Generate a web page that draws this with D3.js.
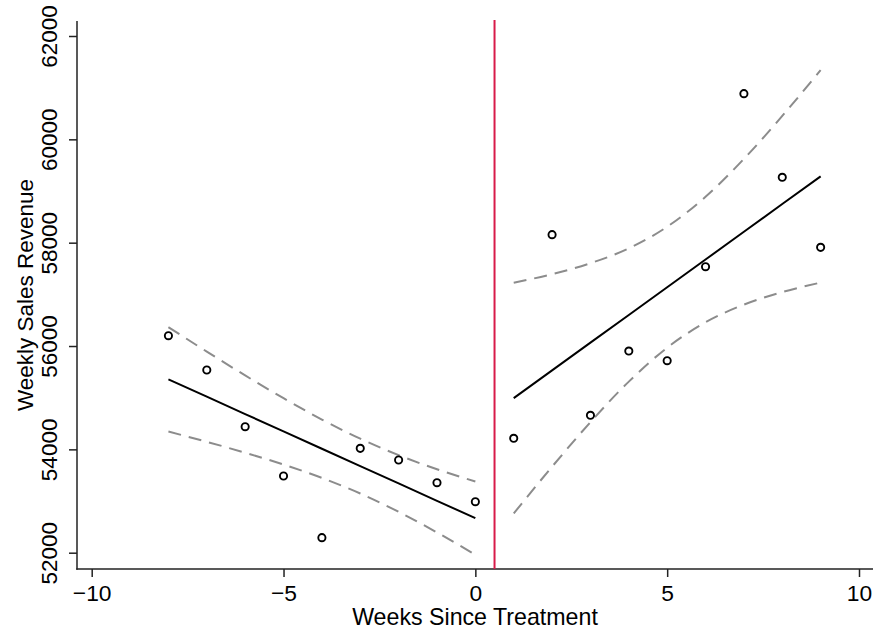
<!DOCTYPE html>
<html>
<head>
<meta charset="utf-8">
<script src="https://cdn.jsdelivr.net/npm/d3@7"></script>
<style>
  html, body { margin: 0; padding: 0; background: #fff; }
  svg { display: block; font-family: "Liberation Sans", Arial, Helvetica, sans-serif; }
</style>
</head>
<body>
<svg id="chart" width="875" height="634"></svg>
<script>
// Weeks relative to treatment, before and after
const weeksPre  = [-8, -7, -6, -5, -4, -3, -2, -1, 0];
const weeksPost = [1, 2, 3, 4, 5, 6, 7, 8, 9];

// Observed weekly sales revenue
const revenuePre  = [56200, 55536, 54439, 53484, 52291, 54020, 53794, 53355, 52987];
const revenuePost = [54214, 58155, 54659, 55903, 55716, 57535, 60884, 59265, 57910];

// Linear fit with confidence band, pre-treatment
const fitPre   = [55355, 55019, 54683, 54348, 54012, 53676, 53340, 53004, 52669];
const upperPre = [56365, 55892, 55431, 54990, 54577, 54207, 53888, 53615, 53378];
const lowerPre = [54345, 54146, 53935, 53707, 53447, 53145, 52792, 52392, 51960];

// Linear fit with confidence band, post-treatment
const fitPost   = [54992, 55528, 56065, 56601, 57138, 57674, 58211, 58748, 59284];
const upperPost = [57224, 57391, 57603, 57891, 58308, 58889, 59621, 60453, 61340];
const lowerPost = [52760, 53665, 54527, 55311, 55968, 56459, 56801, 57043, 57228];

const treatmentWeek = 0.5;
const xTicks = [-10, -5, 0, 5, 10];
const yTicks = [52000, 54000, 56000, 58000, 60000, 62000];

const svg = d3.select("#chart");
const plot = { left: 77, right: 873, top: 21, bottom: 569 };

const x = d3.scaleLinear().domain([-10, 10]).range([91.7, 859]);
const y = d3.scaleLinear().domain([52000, 62000]).range([552.7, 36]);

// Axes
const xAxis = svg.append("g")
  .attr("transform", `translate(0,${plot.bottom})`)
  .call(d3.axisBottom(x).tickValues(xTicks).tickSize(8).tickSizeOuter(0)
    .tickFormat(d => d < 0 ? "\u2212" + Math.abs(d) : String(d)));
xAxis.select(".domain").remove();
xAxis.selectAll(".tick line").attr("stroke", "#222").attr("stroke-width", 1.5);
xAxis.selectAll(".tick text")
  .attr("y", 32).attr("dy", null)
  .attr("fill", "#000").attr("font-size", 22.8);

const yAxis = svg.append("g")
  .attr("transform", `translate(${plot.left},0)`)
  .call(d3.axisLeft(y).tickValues(yTicks).tickSize(8).tickSizeOuter(0).tickFormat(d3.format("d")));
yAxis.select(".domain").remove();
yAxis.selectAll(".tick line").attr("stroke", "#222").attr("stroke-width", 1.5);
yAxis.selectAll(".tick text")
  .attr("transform", "rotate(-90)")
  .attr("x", 0).attr("y", -20).attr("dy", null)
  .attr("text-anchor", "middle")
  .attr("fill", "#000").attr("font-size", 22.5);

// Axis lines spanning the plot region
svg.append("line")
  .attr("x1", plot.left).attr("x2", plot.left)
  .attr("y1", plot.top).attr("y2", plot.bottom + 0.75)
  .attr("stroke", "#222").attr("stroke-width", 1.5);
svg.append("line")
  .attr("x1", plot.left - 0.75).attr("x2", plot.right)
  .attr("y1", plot.bottom).attr("y2", plot.bottom)
  .attr("stroke", "#222").attr("stroke-width", 1.5);

// Axis titles
svg.append("text")
  .attr("x", (plot.left + plot.right) / 2).attr("y", 625)
  .attr("text-anchor", "middle").attr("font-size", 23.2).attr("fill", "#000")
  .text("Weeks Since Treatment");
svg.append("text")
  .attr("transform", `translate(32.5,${(plot.top + plot.bottom) / 2}) rotate(-90)`)
  .attr("text-anchor", "middle").attr("font-size", 22.5).attr("fill", "#000")
  .text("Weekly Sales Revenue");

// Treatment line
svg.append("line")
  .attr("x1", x(treatmentWeek)).attr("x2", x(treatmentWeek))
  .attr("y1", plot.top - 1).attr("y2", plot.bottom)
  .attr("stroke", "#d81b4a").attr("stroke-width", 2);

const line = d3.line().x(d => x(d[0])).y(d => y(d[1]));
const curve = d3.line().x(d => x(d[0])).y(d => y(d[1])).curve(d3.curveMonotoneX);
const pairs = (xs, ys) => xs.map((v, i) => [v, ys[i]]);

// Confidence bands
[[weeksPre, upperPre], [weeksPre, lowerPre], [weeksPost, upperPost], [weeksPost, lowerPost]]
  .forEach(([xs, ys]) => {
    svg.append("path")
      .attr("d", curve(pairs(xs, ys)))
      .attr("fill", "none").attr("stroke", "#8c8c8c")
      .attr("stroke-width", 2).attr("stroke-dasharray", "13,8");
  });

// Fitted lines
[[weeksPre, fitPre], [weeksPost, fitPost]].forEach(([xs, ys]) => {
  svg.append("path")
    .attr("d", line(pairs(xs, ys)))
    .attr("fill", "none").attr("stroke", "#000").attr("stroke-width", 2);
});

// Observations
const obs = pairs(weeksPre, revenuePre).concat(pairs(weeksPost, revenuePost));
svg.append("g").selectAll("circle").data(obs).join("circle")
  .attr("cx", d => x(d[0])).attr("cy", d => y(d[1]))
  .attr("r", 3.6)
  .attr("fill", "none").attr("stroke", "#000").attr("stroke-width", 1.9);
</script>
</body>
</html>
